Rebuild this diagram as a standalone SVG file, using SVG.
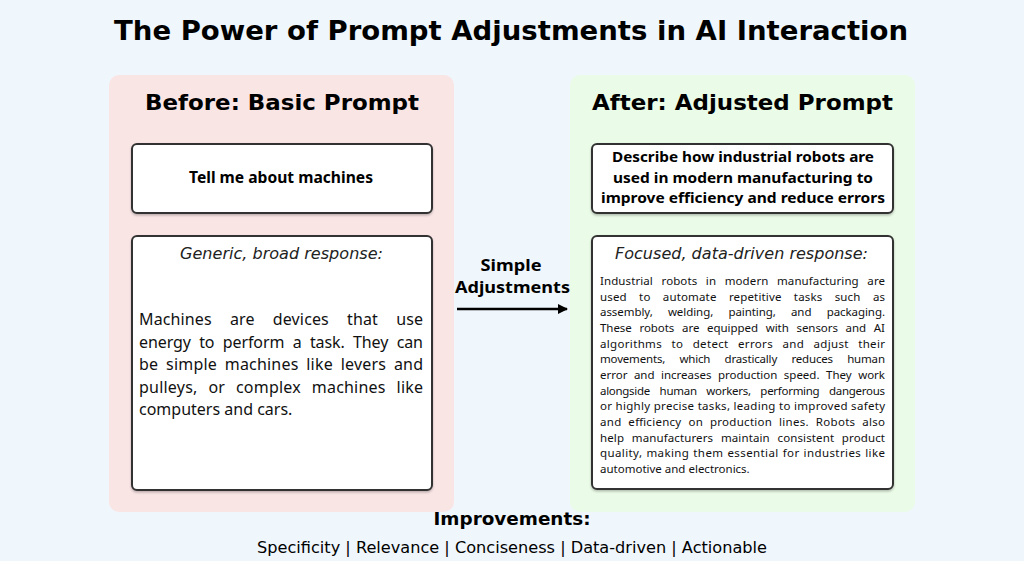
<svg xmlns="http://www.w3.org/2000/svg" width="1024" height="561" viewBox="0 0 1024 561">
<defs>
<marker id="arrow" viewBox="0 0 10 10" refX="9" refY="5" markerWidth="4" markerHeight="4" orient="auto" markerUnits="strokeWidth">
<path d="M0,0 L10,5 L0,10 Z" fill="#000"/>
</marker>
<filter id="shadow" x="-5%" y="-5%" width="110%" height="115%">
<feDropShadow dx="0" dy="1.5" stdDeviation="1.2" flood-color="#000" flood-opacity="0.25"/>
</filter>
<style>
.dj{font-family:"DejaVu Sans",sans-serif;fill:#000}
.djb{font-family:"DejaVu Sans",sans-serif;font-weight:bold;fill:#000}
.dji{font-family:"DejaVu Sans",sans-serif;font-style:italic;fill:#222;font-size:15px}
.pp{font-family:"Noto Sans","Open Sans",sans-serif;fill:#111}
.ppb{font-family:"Noto Sans","Open Sans",sans-serif;font-weight:bold;fill:#000}
.box{fill:#fff;stroke:#333;stroke-width:2;filter:url(#shadow)}
.lb{font-size:16px}
.rb{font-size:11.5px}
</style>
</defs>
<rect width="1024" height="561" fill="#eff6fc"/>
<g id="title">
<text class="djb" x="511" y="40" font-size="26" text-anchor="middle" textLength="794" lengthAdjust="spacingAndGlyphs">The Power of Prompt Adjustments in AI Interaction</text>
</g>
<g id="before-panel">
<rect x="109" y="75" width="345" height="437" rx="10" fill="#fae5e5"/>
<text class="djb" x="282" y="110" font-size="22" text-anchor="middle" textLength="274" lengthAdjust="spacingAndGlyphs">Before: Basic Prompt</text>
</g>
<g id="after-panel">
<rect x="570" y="75" width="345" height="437" rx="10" fill="#eafbe7"/>
<text class="djb" x="742.5" y="110" font-size="22" text-anchor="middle" textLength="301" lengthAdjust="spacingAndGlyphs">After: Adjusted Prompt</text>
</g>
<g id="basic-prompt">
<rect class="box" x="132" y="144" width="300" height="69" rx="5"/>
<text class="ppb" x="281" y="182.5" font-size="15.5" text-anchor="middle" textLength="184" lengthAdjust="spacingAndGlyphs">Tell me about machines</text>
</g>
<g id="basic-response">
<rect class="box" x="132" y="236" width="300" height="254" rx="5"/>
<text class="dji" x="281.5" y="259" text-anchor="middle" textLength="203" lengthAdjust="spacingAndGlyphs">Generic, broad response:</text>
<g class="pp lb">
<text x="139" y="325" word-spacing="13.9" textLength="284" lengthAdjust="spacing">Machines are devices that use</text>
<text x="139" y="347.5" word-spacing="4.3" textLength="284" lengthAdjust="spacing">energy to perform a task. They can</text>
<text x="139" y="370" word-spacing="3.4" textLength="284" lengthAdjust="spacing">be simple machines like levers and</text>
<text x="139" y="392.5" word-spacing="6.5" textLength="284" lengthAdjust="spacing">pulleys, or complex machines like</text>
<text x="139" y="415">computers and cars.</text>
</g>
</g>
<g id="adjusted-prompt">
<rect class="box" x="592" y="144" width="301" height="69" rx="5"/>
<g class="ppb" font-size="15" text-anchor="middle">
<text x="743" y="162" textLength="262" lengthAdjust="spacingAndGlyphs">Describe how industrial robots are</text>
<text x="743" y="182.5" textLength="260" lengthAdjust="spacingAndGlyphs">used in modern manufacturing to</text>
<text x="743" y="203" textLength="284" lengthAdjust="spacingAndGlyphs">improve efficiency and reduce errors</text>
</g>
</g>
<g id="adjusted-response">
<rect class="box" x="592" y="236" width="301" height="253" rx="5"/>
<text class="dji" x="741.5" y="259" text-anchor="middle" textLength="253" lengthAdjust="spacingAndGlyphs">Focused, data-driven response:</text>
<g class="pp rb">
<text x="600" y="285" word-spacing="5.5" textLength="285" lengthAdjust="spacing">Industrial robots in modern manufacturing are</text>
<text x="600" y="300.67" word-spacing="9.2" textLength="285" lengthAdjust="spacing">used to automate repetitive tasks such as</text>
<text x="600" y="316.33" word-spacing="12.3" textLength="285" lengthAdjust="spacing">assembly, welding, painting, and packaging.</text>
<text x="600" y="332" word-spacing="4.8" textLength="285" lengthAdjust="spacing">These robots are equipped with sensors and AI</text>
<text x="600" y="347.67" word-spacing="6.1" textLength="285" lengthAdjust="spacing">algorithms to detect errors and adjust their</text>
<text x="600" y="363.33" word-spacing="11.5" textLength="285" lengthAdjust="spacing">movements, which drastically reduces human</text>
<text x="600" y="379" word-spacing="3.6" textLength="285" lengthAdjust="spacing">error and increases production speed. They work</text>
<text x="600" y="394.67" word-spacing="6.9" textLength="285" lengthAdjust="spacing">alongside human workers, performing dangerous</text>
<text x="600" y="410.33" textLength="285" lengthAdjust="spacing">or highly precise tasks, leading to improved safety</text>
<text x="600" y="426" word-spacing="3.6" textLength="285" lengthAdjust="spacing">and efficiency on production lines. Robots also</text>
<text x="600" y="441.67" word-spacing="4.6" textLength="285" lengthAdjust="spacing">help manufacturers maintain consistent product</text>
<text x="600" y="457.33" word-spacing="0.6" textLength="285" lengthAdjust="spacing">quality, making them essential for industries like</text>
<text x="600" y="473">automotive and electronics.</text>
</g>
</g>
<g id="connectors">
<line x1="457" y1="309" x2="567" y2="309" stroke="#000" stroke-width="2.5" marker-end="url(#arrow)"/>
<g class="ppb" font-size="16" text-anchor="middle">
<text x="511" y="271" textLength="61" lengthAdjust="spacingAndGlyphs">Simple</text>
<text x="512.5" y="293" textLength="115" lengthAdjust="spacingAndGlyphs">Adjustments</text>
</g>
</g>
<g id="improvements">
<text class="djb" x="512" y="525" font-size="18" text-anchor="middle" textLength="157" lengthAdjust="spacingAndGlyphs">Improvements:</text>
<text class="dj" x="512" y="553" font-size="16" text-anchor="middle" fill="#222" textLength="510" lengthAdjust="spacingAndGlyphs">Specificity | Relevance | Conciseness | Data-driven | Actionable</text>
</g>
</svg>
